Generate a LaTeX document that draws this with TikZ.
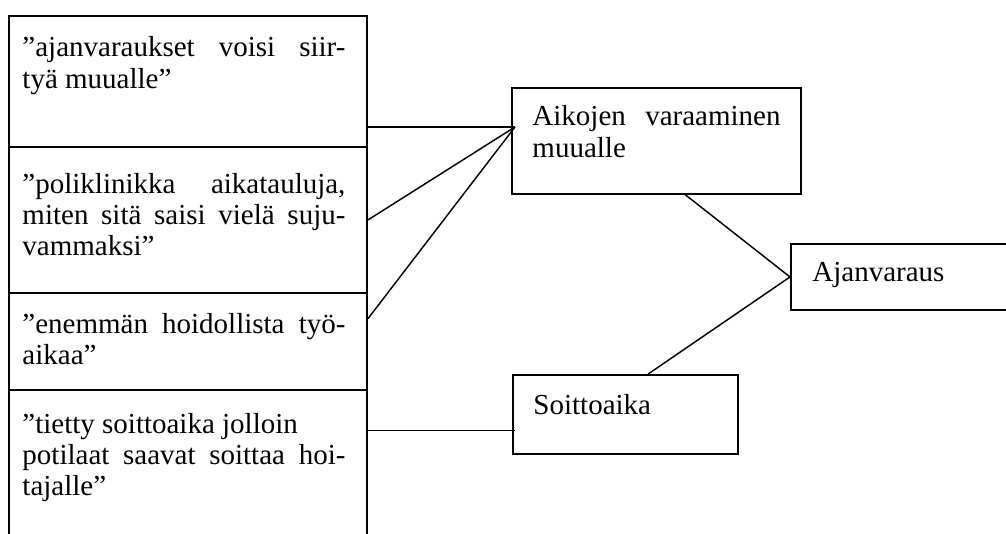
\documentclass[tikz,border=0pt]{standalone}
\usepackage{fontspec}
\setmainfont{Liberation Serif}
\usetikzlibrary{calc, positioning}

\tikzset{
  cell/.style={draw, line width=0.8pt, inner sep=0pt, anchor=north west},
  quote/.style={anchor=base west, inner sep=0pt, align=justify,
    text width=133.7pt, font=\fontsize{12}{13}\selectfont},
  label/.style={anchor=base west, inner sep=0pt, font=\fontsize{12}{13}\selectfont},
  link/.style={line width=0.6pt},
}

\begin{document}
\begin{tikzpicture}[x=0.414pt, y=-0.414pt]
\def\unitpx{0.414pt}
\path[use as bounding box] (0,0) rectangle (1006,534);
\clip (0,0) rectangle (1006,534);

% quotes, left column
\node[cell, minimum width=358*\unitpx, minimum height=131*\unitpx] (q1) at (8,15) {};
\node[cell, minimum width=358*\unitpx, minimum height=146*\unitpx] (q2) at (8,146) {};
\node[cell, minimum width=358*\unitpx, minimum height=97*\unitpx] (q3) at (8,292) {};
\node[cell, minimum width=358*\unitpx, minimum height=170*\unitpx] (q4) at (8,389) {};

\node[quote] (t1) at ($(q1.north west)+(14,42)$)
  {”ajanvaraukset voisi siir-\linebreak tyä muualle”};
\node[quote] (t2) at ($(q2.north west)+(14,47)$)
  {”poliklinikka aikatauluja,\linebreak miten sitä saisi vielä suju-\linebreak vammaksi”};
\node[quote] (t3) at ($(q3.north west)+(14,41)$)
  {”enemmän hoidollista työ-\linebreak aikaa”};
\node[quote] (t4) at ($(q4.north west)+(14,44)$)
  {”tietty soittoaika jolloin\\ potilaat saavat soittaa hoi-\linebreak tajalle”};

% categories
\node[cell, minimum width=289*\unitpx, minimum height=106*\unitpx] (aik) at (511,87) {};
\node[cell, minimum width=225*\unitpx, minimum height=79*\unitpx] (soi) at (512,374) {};
\node[cell, minimum width=240*\unitpx, minimum height=66*\unitpx] (ajan) at (790,243) {};

\node[quote, text width=102.7pt] (aikt) at ($(aik.north west)+(21,39)$)
  {Aikojen varaaminen\linebreak muualle};
\node[label] (soit) at ($(soi.north west)+(21,40)$) {Soittoaika};
\node[label] (ajant) at ($(ajan.north west)+(22,38)$) {Ajanvaraus};

% connectors
\coordinate (hub) at ($(aik.west)+(4,-14)$);
\coordinate (soiin) at ($(soi.west)+(3,16)$);
\draw[link] (q1.east |- hub) -- (hub);
\draw[link] (q2.east) -- (hub);
\draw[link] ($(q3.north east)!0.27!(q3.south east)$) -- (hub);
\draw[link] (q4.east |- soiin) -- (soiin);
\draw[link] ($(aik.south west)!0.6!(aik.south east)$) -- (ajan.west);
\draw[link] ($(soi.north west)!0.6!(soi.north east)$) -- (ajan.west);
\end{tikzpicture}
\end{document}
